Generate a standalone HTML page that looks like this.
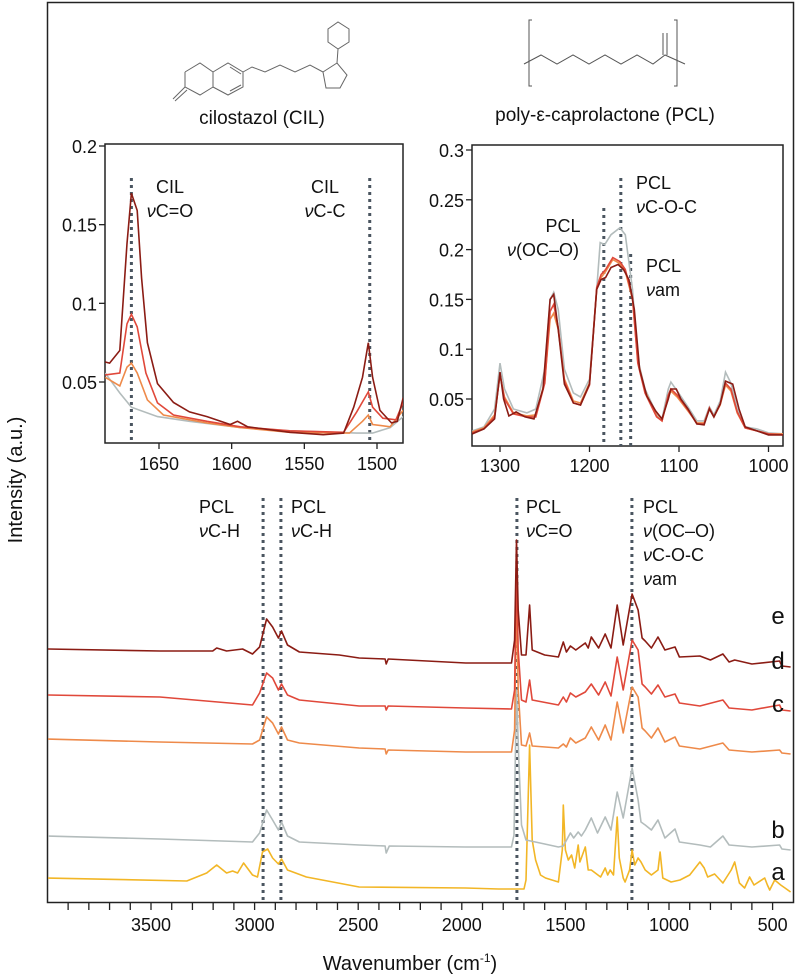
<!DOCTYPE html>
<html><head><meta charset="utf-8"><style>
html,body{margin:0;padding:0;background:#fff}
svg{display:block;font-family:"Liberation Sans",Arial,sans-serif}
</style></head><body>
<svg id="chart" width="799" height="978" viewBox="0 0 799 978">
<rect x="47.5" y="2.5" width="746" height="900" fill="none" stroke="#222" stroke-width="1.5"/>
<g fill="none" stroke="#666" stroke-width="1">
<polyline points="185,72 200,63 213,72 213,87 200,95 185,87 185,72"/>
<line x1="185" y1="87" x2="173" y2="99"/><line x1="187" y1="90" x2="175" y2="101"/>
<polyline points="213,72 228,63 243,72 243,87 228,95 213,87"/>
<line x1="230" y1="67" x2="241" y2="74"/><line x1="230" y1="91" x2="241" y2="85"/>
<polyline points="243,72 252,67 265,72 280,65 295,72 310,65 323,72"/>
<polygon points="323,72 337,63 347,75 340,88 326,88"/>
<line x1="337" y1="63" x2="338" y2="49"/>
<polygon points="338,49 328,42 328,29 338,22 349,29 349,42"/>
</g>
<text x="262" y="124" font-size="19" text-anchor="middle" fill="#111">cilostazol (CIL)</text>
<g fill="none" stroke="#555" stroke-width="1">
<polyline points="532,20 529,20 529,86 532,86"/><polyline points="674,20 677,20 677,86 674,86"/>
<polyline points="524,64 541,55 557,64 573,55 589,64 605,55 621,64 637,55 653,64 665,55 685,64"/>
<line x1="663" y1="55" x2="663" y2="33"/><line x1="667" y1="55" x2="667" y2="33"/>
</g>
<text x="605" y="121" font-size="19" text-anchor="middle" fill="#111">poly-ε-caprolactone (PCL)</text>
<text transform="translate(22,480) rotate(-90)" font-size="20" text-anchor="middle" fill="#111">Intensity (a.u.)</text>
<text x="410" y="970" font-size="20" text-anchor="middle" fill="#111">Wavenumber (cm<tspan font-size="12" dy="-8">-1</tspan><tspan dy="8">)</tspan></text>
<g id="main"></g><g id="insL"></g><g id="insR"></g>
</svg>
<script>
// ---------- main spectra data: [wavenumber, intensity a.u. (offset)] ----------
const mainTicks = [3500,3000,2500,2000,1500,1000,500];
const seriesNames = ['e','d','c','b','a'];
const seriesE = [[4000,253],[3457,251],[3202,251],[3183,254],[3135,251],[3058,253],[3010,248],[2976,255],[2942,283],[2913,275],[2885,264],[2870,271],[2841,257],[2784,250],[2591,247],[2495,244],[2370,243],[2365,238],[2355,243],[1981,239],[1822,239],[1760,239],[1745,262],[1736,362],[1728,292],[1712,247],[1690,247],[1673,297],[1660,252],[1600,247],[1534,245],[1510,260],[1495,250],[1476,256],[1450,252],[1404,259],[1390,254],[1375,265],[1340,254],[1308,268],[1280,254],[1250,297],[1221,257],[1178,308],[1149,292],[1130,264],[1115,261],[1085,254],[1053,265],[1020,252],[971,255],[950,245],[851,246],[800,242],[740,248],[710,240],[683,242],[600,238],[466,241],[455,236],[413,235]];
const seriesD = [[4000,207],[3457,205],[3010,197],[2976,209],[2942,229],[2913,224],[2885,212],[2870,218],[2841,207],[2784,202],[2495,196],[2370,196],[2365,192],[2355,196],[1981,194],[1760,193],[1745,212],[1736,337],[1728,252],[1712,202],[1690,200],[1673,222],[1660,202],[1534,197],[1510,205],[1495,200],[1476,209],[1450,205],[1404,210],[1375,218],[1340,207],[1308,220],[1280,206],[1250,245],[1221,212],[1178,262],[1149,252],[1130,218],[1115,215],[1085,208],[1053,217],[1020,205],[971,208],[950,199],[851,196],[740,202],[710,194],[600,192],[466,197],[455,192],[413,191]];
const seriesC = [[4000,163],[3457,160],[3010,158],[2976,162],[2942,185],[2913,179],[2885,168],[2870,175],[2841,162],[2784,159],[2495,154],[2370,153],[2365,148],[2355,152],[1981,150],[1760,150],[1745,172],[1736,312],[1728,212],[1712,157],[1690,156],[1673,169],[1660,156],[1534,154],[1510,158],[1495,155],[1476,164],[1450,159],[1404,164],[1375,175],[1340,162],[1308,177],[1280,162],[1250,200],[1221,169],[1178,215],[1149,205],[1130,174],[1115,171],[1085,164],[1053,174],[1020,160],[971,165],[950,156],[851,153],[740,159],[710,152],[600,150],[466,152],[455,149],[413,148]];
const seriesB = [[4000,66],[3457,63],[3010,60],[2976,69],[2942,92],[2913,82],[2885,72],[2870,80],[2841,66],[2784,60],[2495,57],[2370,56],[2365,49],[2350,56],[1981,55],[1760,55],[1748,67],[1736,212],[1725,142],[1712,77],[1690,62],[1600,58],[1534,55],[1510,56],[1476,69],[1460,64],[1438,70],[1423,66],[1404,72],[1375,84],[1345,69],[1308,85],[1280,72],[1250,110],[1221,84],[1178,134],[1149,102],[1135,80],[1115,77],[1085,72],[1053,82],[1020,64],[971,73],[950,60],[851,57],[800,55],[740,66],[710,57],[600,55],[466,57],[455,53],[413,52]];
const seriesA = [[4000,24],[3327,21],[3231,29],[3183,37],[3135,29],[3106,31],[3082,29],[3053,39],[3010,27],[2986,25],[2962,50],[2937,53],[2913,44],[2885,38],[2870,43],[2841,32],[2750,25],[2495,15],[1981,14],[1822,13],[1700,13],[1690,22],[1673,157],[1660,62],[1644,42],[1620,27],[1596,24],[1534,20],[1515,52],[1510,97],[1500,52],[1486,42],[1470,47],[1455,34],[1438,57],[1430,40],[1404,55],[1390,32],[1375,32],[1330,25],[1308,34],[1296,27],[1284,32],[1268,27],[1250,85],[1240,44],[1221,24],[1212,20],[1190,32],[1178,52],[1165,37],[1149,44],[1135,40],[1115,32],[1085,27],[1053,32],[1043,50],[1030,24],[990,20],[947,22],[900,27],[851,40],[830,34],[813,25],[780,28],[740,19],[700,32],[683,40],[660,19],[635,14],[611,25],[590,17],[538,24],[525,17],[514,12],[490,22],[461,17],[440,14],[413,10]];
const mainMarkers = [2959,2873,1734,1179];

// ---------- left inset (CIL region) ----------
const insLTicksX = [1650,1600,1550,1500];
const insLTicksY = [0.05,0.1,0.15,0.2];
const insLTickLabelsY = ['0.05','0.1','0.15','0.2'];
const insLE = [[1687,0.0627],[1684,0.062],[1677,0.070],[1672,0.138],[1669,0.170],[1665,0.159],[1662,0.116],[1658,0.075],[1651,0.049],[1640,0.037],[1629,0.031],[1617,0.028],[1601,0.023],[1596,0.025],[1589,0.0215],[1560,0.018],[1537,0.0165],[1523,0.0175],[1516,0.034],[1510,0.053],[1506,0.075],[1503,0.053],[1498,0.032],[1490,0.024],[1486,0.025],[1482,0.040]];
const insLD = [[1687,0.0545],[1677,0.0557],[1672,0.087],[1669,0.093],[1665,0.085],[1659,0.0557],[1651,0.0367],[1640,0.029],[1617,0.025],[1594,0.0215],[1560,0.019],[1523,0.018],[1514,0.031],[1506,0.0437],[1503,0.034],[1496,0.027],[1487,0.026],[1482,0.037]];
const insLC = [[1687,0.053],[1677,0.0475],[1672,0.0595],[1669,0.062],[1665,0.0557],[1658,0.0386],[1647,0.029],[1617,0.024],[1594,0.021],[1560,0.018],[1519,0.0175],[1510,0.025],[1506,0.029],[1503,0.023],[1491,0.0215],[1482,0.032]];
const insLB = [[1687,0.0557],[1677,0.043],[1669,0.034],[1651,0.028],[1629,0.025],[1594,0.021],[1560,0.019],[1514,0.0175],[1503,0.0175],[1491,0.021],[1482,0.028]];
const insLMarkers = [1669,1505];

// ---------- right inset (PCL region) ----------
const insRTicksX = [1300,1200,1100,1000];
const insRTicksY = [0.05,0.1,0.15,0.2,0.25,0.3];
const insRTickLabelsY = ['0.05','0.1','0.15','0.2','0.25','0.3'];
const insRB = [[1331,0.018],[1318,0.022],[1306,0.040],[1300,0.086],[1295,0.060],[1285,0.040],[1270,0.036],[1260,0.040],[1250,0.080],[1244,0.150],[1240,0.157],[1235,0.140],[1228,0.080],[1218,0.056],[1210,0.052],[1200,0.070],[1192,0.160],[1188,0.207],[1183,0.205],[1176,0.215],[1166,0.222],[1160,0.215],[1152,0.160],[1146,0.090],[1138,0.060],[1125,0.035],[1119,0.030],[1112,0.060],[1109,0.067],[1102,0.058],[1090,0.042],[1080,0.028],[1072,0.028],[1066,0.042],[1061,0.034],[1054,0.048],[1048,0.077],[1042,0.066],[1035,0.040],[1026,0.022],[1013,0.020],[1000,0.016],[983,0.015]];
const insRC = [[1331,0.017],[1318,0.021],[1306,0.034],[1300,0.074],[1295,0.052],[1285,0.036],[1270,0.033],[1260,0.034],[1250,0.068],[1244,0.130],[1240,0.136],[1235,0.120],[1228,0.070],[1218,0.048],[1210,0.046],[1200,0.066],[1192,0.160],[1187,0.172],[1182,0.178],[1174,0.190],[1166,0.186],[1160,0.178],[1152,0.150],[1146,0.088],[1138,0.058],[1125,0.033],[1119,0.028],[1112,0.052],[1109,0.058],[1102,0.052],[1090,0.038],[1080,0.026],[1072,0.026],[1066,0.040],[1061,0.032],[1054,0.044],[1048,0.064],[1042,0.058],[1035,0.036],[1026,0.021],[1013,0.018],[1000,0.015],[983,0.015]];
const insRD = [[1331,0.016],[1318,0.020],[1306,0.032],[1300,0.075],[1295,0.050],[1285,0.035],[1270,0.032],[1260,0.032],[1250,0.066],[1244,0.138],[1240,0.145],[1235,0.122],[1228,0.068],[1218,0.046],[1210,0.044],[1200,0.064],[1192,0.162],[1187,0.175],[1182,0.180],[1174,0.192],[1166,0.188],[1160,0.180],[1152,0.152],[1146,0.086],[1138,0.056],[1125,0.032],[1119,0.028],[1112,0.054],[1109,0.060],[1102,0.054],[1090,0.039],[1080,0.025],[1072,0.025],[1066,0.041],[1061,0.032],[1054,0.045],[1048,0.066],[1042,0.060],[1035,0.037],[1026,0.021],[1013,0.018],[1000,0.015],[983,0.014]];
const insRE = [[1331,0.015],[1318,0.020],[1306,0.030],[1300,0.077],[1296,0.050],[1290,0.033],[1282,0.037],[1272,0.032],[1262,0.030],[1252,0.060],[1244,0.150],[1240,0.155],[1235,0.120],[1228,0.065],[1218,0.046],[1210,0.044],[1200,0.065],[1192,0.160],[1187,0.170],[1182,0.172],[1176,0.182],[1168,0.185],[1162,0.180],[1156,0.170],[1150,0.140],[1144,0.080],[1136,0.053],[1126,0.038],[1119,0.030],[1112,0.050],[1109,0.060],[1103,0.060],[1098,0.050],[1090,0.040],[1080,0.025],[1072,0.024],[1066,0.040],[1061,0.032],[1054,0.045],[1048,0.068],[1040,0.065],[1033,0.040],[1026,0.022],[1013,0.018],[1000,0.014],[983,0.014]];
const insRMarkers = [1184,1165,1154];

const COL = {e:'#8b1c14', d:'#e0483a', c:'#ee8a4a', b:'#b3bcbc', a:'#f2b626'};
const NS='http://www.w3.org/2000/svg';
function mk(tag, parent, attrs){const el=document.createElementNS(NS,tag);for(const k in attrs)el.setAttribute(k,attrs[k]);parent.appendChild(el);return el;}
function scale(d0,d1,r0,r1){return v=>r0+(v-d0)*(r1-r0)/(d1-d0);}
function pathOf(pts,sx,sy){return pts.map((p,i)=>(i?'L':'M')+sx(p[0]).toFixed(1)+','+sy(p[1]).toFixed(1)).join('');}
function label(parent,x,y,lines,anchor,name){const t=mk('text',parent,{x:x,y:y,'font-size':18,'text-anchor':anchor,fill:'#111'});
  lines.forEach((ln,i)=>{const ts=mk('tspan',t,{x:x,dy:i?24:0});if(ln[0]==='ν'){const g=mk('tspan',ts,{'font-style':'italic'});g.textContent='ν';ts.appendChild(document.createTextNode(ln.slice(1)));}else ts.textContent=ln;});}

// ---- main ----
const gM=document.getElementById('main');
const xM=scale(3500,1000,151,669), yM=scale(0,900,902,2);
const clipM=mk('clipPath',gM,{id:'cm'});mk('rect',clipM,{x:48,y:3,width:745,height:899});
mainMarkers.forEach(w=>{const l=mk('line',gM,{x1:xM(w),x2:xM(w),y1:498,y2:902,stroke:'#4a5560','stroke-width':3,'stroke-dasharray':'3,4'});});
const mainSeries={e:seriesE,d:seriesD,c:seriesC,b:seriesB,a:seriesA};
['a','b','c','d','e'].forEach(k=>{const p=mk('path',gM,{d:pathOf(mainSeries[k],xM,yM),fill:'none',stroke:COL[k],'stroke-width':1.6,'clip-path':'url(#cm)','stroke-linejoin':'round'});});
for(let w=3900;w>=500;w-=100){const t=mk('line',gM,{x1:xM(w),x2:xM(w),y1:903,y2:910,stroke:'#222','stroke-width':1.3});}
mainTicks.forEach(w=>{const t=mk('text',gM,{x:xM(w),y:931,'font-size':18,'text-anchor':'middle',fill:'#111'});t.textContent=w;});
const lblY={e:624,d:669,c:712,b:838,a:880};
seriesNames.forEach(k=>{const t=mk('text',gM,{x:778,y:lblY[k],'font-size':24,'text-anchor':'middle',fill:'#111'});t.textContent=k;});
label(gM,199,513,['PCL','νC-H'],'start','annot-pcl-ch-1');
label(gM,291,513,['PCL','νC-H'],'start','annot-pcl-ch-2');
label(gM,526,513,['PCL','νC=O'],'start','annot-pcl-co');
label(gM,643,513,['PCL','ν(OC–O)','νC-O-C','νam'],'start','annot-pcl-coc');

// ---- left inset ----
const gL=document.getElementById('insL');
const xL=scale(1650,1500,159,377), yL=scale(0.05,0.2,382,146);
mk('rect',gL,{x:105,y:144,width:298,height:299,fill:'#fff',stroke:'#222','stroke-width':1.5});
const clipL=mk('clipPath',gL,{id:'cl'});mk('rect',clipL,{x:105,y:144,width:298,height:299});
insLMarkers.forEach(w=>{const l=mk('line',gL,{x1:xL(w),x2:xL(w),y1:178,y2:443,stroke:'#4a5560','stroke-width':3,'stroke-dasharray':'3,4'});});
const lS={b:insLB,c:insLC,d:insLD,e:insLE};
['b','c','d','e'].forEach(k=>{const p=mk('path',gL,{d:pathOf(lS[k],xL,yL),fill:'none',stroke:COL[k],'stroke-width':1.6,'clip-path':'url(#cl)'});});
insLTicksX.forEach(w=>{mk('line',gL,{x1:xL(w),x2:xL(w),y1:443,y2:449,stroke:'#222','stroke-width':1.3});const t=mk('text',gL,{x:xL(w),y:470,'font-size':18,'text-anchor':'middle',fill:'#111'});t.textContent=w;});
insLTicksY.forEach((v,i)=>{mk('line',gL,{x1:99,x2:105,y1:yL(v),y2:yL(v),stroke:'#222','stroke-width':1.3});const t=mk('text',gL,{x:97,y:yL(v)+7,'font-size':18,'text-anchor':'end',fill:'#111'});t.textContent=insLTickLabelsY[i];});
label(gL,170,193,['CIL','νC=O'],'middle','annot-cil-co');
label(gL,325,193,['CIL','νC-C'],'middle','annot-cil-cc');

// ---- right inset ----
const gR=document.getElementById('insR');
const xR=scale(1300,1000,500,768.5), yR=scale(0.05,0.3,399,150);
mk('rect',gR,{x:472,y:145,width:311,height:301,fill:'#fff',stroke:'#222','stroke-width':1.5});
const clipR=mk('clipPath',gR,{id:'cr'});mk('rect',clipR,{x:472,y:145,width:311,height:301});
const rTop=[208,178,254];
insRMarkers.forEach((w,i)=>{const l=mk('line',gR,{x1:xR(w),x2:xR(w),y1:rTop[i],y2:446,stroke:'#4a5560','stroke-width':3,'stroke-dasharray':'3,4'});});
const rS={b:insRB,c:insRC,d:insRD,e:insRE};
['b','c','d','e'].forEach(k=>{const p=mk('path',gR,{d:pathOf(rS[k],xR,yR),fill:'none',stroke:COL[k],'stroke-width':1.6,'clip-path':'url(#cr)'});});
insRTicksX.forEach(w=>{mk('line',gR,{x1:xR(w),x2:xR(w),y1:446,y2:452,stroke:'#222','stroke-width':1.3});const t=mk('text',gR,{x:xR(w),y:472,'font-size':18,'text-anchor':'middle',fill:'#111'});t.textContent=w;});
insRTicksY.forEach((v,i)=>{mk('line',gR,{x1:466,x2:472,y1:yR(v),y2:yR(v),stroke:'#222','stroke-width':1.3});const t=mk('text',gR,{x:464,y:yR(v)+7,'font-size':18,'text-anchor':'end',fill:'#111'});t.textContent=insRTickLabelsY[i];});
label(gR,563,232,['PCL'],'middle','annot-pcl-oco-title');
label(gR,543,256,['ν(OC–O)'],'middle','annot-pcl-oco');
label(gR,636,189,['PCL','νC-O-C'],'start','annot-pcl-coc-inset');
label(gR,646,272,['PCL','νam'],'start','annot-pcl-am');
</script>
</body></html>
